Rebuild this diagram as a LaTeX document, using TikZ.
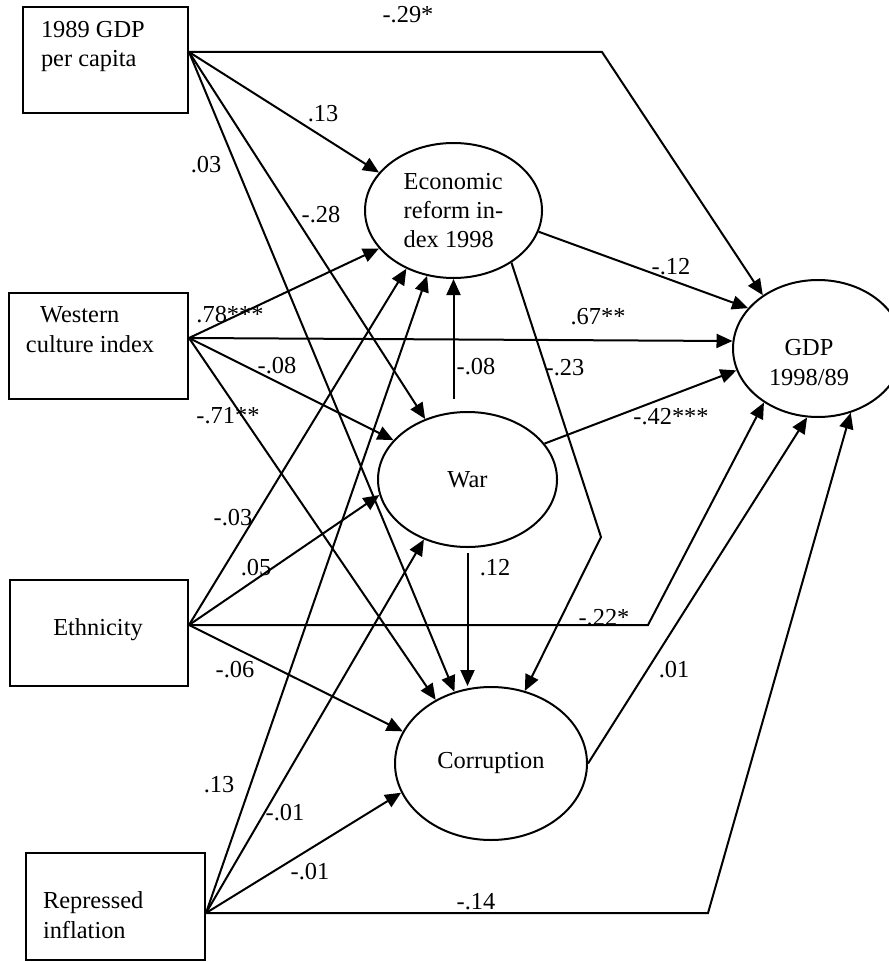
\documentclass[tikz,border=0pt]{standalone}
\usepackage{fontspec}
\setmainfont{Liberation Serif}
\usetikzlibrary{shapes.geometric}
\usetikzlibrary{arrows.meta}
\usetikzlibrary{calc}

\tikzset{
box/.style={draw,rectangle,inner sep=0pt,minimum height=79.5pt},
ell/.style={draw,ellipse,inner sep=0pt,align=left},
txt/.style={inner sep=0pt},
lab/.style={inner sep=0pt},
arr/.style={-{Triangle[length=12pt,width=10.5pt]}}
}

\begin{document}
\begin{tikzpicture}[x=0.75pt,y=-0.75pt,line width=1.5pt,font=\fontsize{18.3}{21.8}\selectfont]
\useasboundingbox (0,0) rectangle (888,962);
\draw
(105.5,60) node[box,minimum width=123.75pt](gdp89){}
(98.5,346) node[box,minimum width=134.25pt](west){}
(99,633) node[box,minimum width=133.5pt](ethn){}
(115.5,906.5) node[box,minimum width=134.25pt,minimum height=80.25pt](repr){}
(453.5,210.5) node[ell,minimum width=132.75pt,minimum height=101.25pt](econ){Economic\\reform in-\\dex 1998}
(467.5,479.5) node[ell,minimum width=134.25pt,minimum height=101.25pt](war){War}
(491,763.5) node[ell,minimum width=144pt,minimum height=114.75pt](corr){Corruption}
(818,348.5) node[ell,minimum width=127.5pt,minimum height=102.75pt](gdp98){}
;
% texts of the boxes
\node[txt,anchor=north west,align=left] (gdp89txt) at ($(gdp89.north west)+(18,14)$) {1989 GDP\\per capita};
\node[txt,anchor=north west,align=left] (westtxt) at ($(west.north west)+(17,14)$) {\hspace{10.5pt}Western\\culture index};
\node[txt,anchor=base] (ethntxt) at ($(ethn.center)+(-1,2)$) {Ethnicity};
\node[txt,anchor=north west,align=left] (reprtxt) at ($(repr.north west)+(17,39)$) {Repressed\\inflation};
\node[txt,anchor=north,align=center] (gdp98txt) at ($(gdp98.center)+(-9,-9.7)$) {GDP\\1998/89};

\coordinate (gdp89out) at ($(gdp89.east)+(0,-8)$);
\coordinate (westout) at ($(west.east)+(0,-8)$);
\coordinate (ethnout) at ($(ethn.east)+(0,-8)$);
\coordinate (reprout) at ($(repr.east)+(0,6.5)$);
\coordinate (warup) at ($(war.north)+(-14,-12)$);
\coordinate (wardown) at ($(war.south)+(0,5)$);
\coordinate (bend23) at (601,537);

\foreach \s/\t/\l/\lx/\ly [count=\i] in {
gdp89out/econ.153/{.13}/323/114,
gdp89out/war.125/{-.28}/321/215,
gdp89out/corr.117/{.03}/206/165,
westout/econ.207/{.78***}/230/315,
westout/war.152/{-.08}/277/366,
westout/corr.131/{-.71**}/228/416,
westout/gdp98.175/{.67**}/598/317,
ethnout/econ.231/{-.03}/233/518,
ethnout/war.190/{.05}/256/568,
ethnout/corr.160/{-.06}/235/670,
reprout/econ.248/{.13}/219/785,
reprout/war.234/{-.01}/285/813,
reprout/corr.198/{-.01}/310/872,
econ.346/gdp98.150/{-.12}/671/267,
war.25/gdp98.195/{-.42***}/671/417,
corr.east/gdp98.261/{.01}/674/670}{
\draw[arr](\s)--(\t);
\node[lab] (lab\i) at (\lx,\ly) {\l};
}

% bent and vertical paths
\draw[arr] (gdp89out) -- ++(413,0) -- (gdp98.136);
\draw[arr] (econ.318) -- (bend23) -- (corr.65);
\draw[arr] (ethnout) -- ++(459,0) -- (gdp98.225);
\draw[arr] (reprout) -- ++(502,0) -- (gdp98.297);
\draw[arr] (warup) -- (warup |- econ.south);
\draw[arr] (wardown) -- (wardown |- corr.north);
\node[lab] (lab29) at (408,15) {-.29*};
\node[lab] (lab23) at (565,368) {-.23};
\node[lab] (lab22) at (604,618) {-.22*};
\node[lab] (lab14) at (476,902) {-.14};
\node[lab] (lab08) at (476,367) {-.08};
\node[lab] (lab12) at (495,568) {.12};
\end{tikzpicture}
\end{document}
